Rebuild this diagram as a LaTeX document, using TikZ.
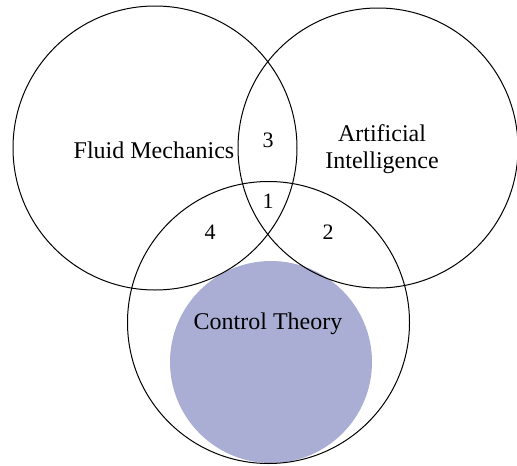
\documentclass[tikz,border=0pt]{standalone}
\usepackage{fontspec}
\setmainfont{Liberation Serif}
\begin{document}
\begin{tikzpicture}[x=1pt,y=-1pt,
  ring/.style={circle, draw=black, line width=1pt, inner sep=0pt},
  label/.style={font=\fontsize{24}{27}\selectfont, inner sep=0pt, align=center},
  num/.style={font=\fontsize{22}{24}\selectfont, inner sep=0pt}]
\useasboundingbox (0,0) rectangle (517,466);
% shaded core of the control-theory set
\node[circle, fill={rgb,255:red,171;green,174;blue,212}, minimum size=202pt, inner sep=0pt] (core) at (271,362) {};
% the three sets
\node[ring, minimum size=284pt] (fm) at (155,148) {};
\node[ring, minimum size=280pt] (ai) at (378,148) {};
\node[ring, minimum size=282pt] (ct) at (268.5,322.5) {};
% set names
\node[label] (fmtext) at (154,150) {Fluid Mechanics};
\node[label] (aitext) at (382,149) {Artificial\\Intelligence};
\node[label] (cttext) at (268,324) {Control Theory};
% region numbers
\node[num] (n3) at (268,140) {3};
\node[num] (n1) at (268,201) {1};
\node[num] (n4) at (210,232) {4};
\node[num] (n2) at (328,232) {2};
\end{tikzpicture}
\end{document}
